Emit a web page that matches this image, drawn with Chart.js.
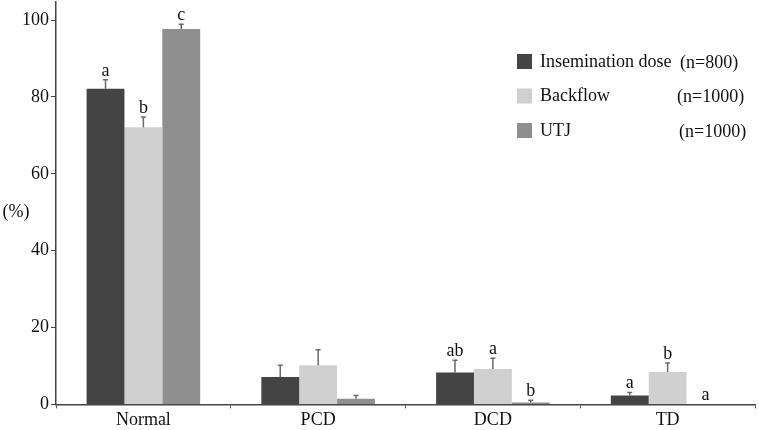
<!DOCTYPE html>
<html>
<head>
<meta charset="utf-8">
<script src="https://cdn.jsdelivr.net/npm/chart.js@4.4.1/dist/chart.umd.min.js"></script>
<style>
  html, body { margin: 0; padding: 0; background: #fff; }
  #wrap { width: 759px; height: 430px; }
</style>
</head>
<body>
<div id="wrap"><canvas id="chart"></canvas></div>
<script>
// Chart data.
const categories = ['Normal', 'PCD', 'DCD', 'TD'];
const seriesNames = ['Insemination dose', 'Backflow', 'UTJ'];
const sampleSizes = ['(n=800)', '(n=1000)', '(n=1000)'];
const doseValues = [82.1, 7.1, 8.3, 2.3];
const backflowValues = [72.1, 10.2, 9.2, 8.4];
const utjValues = [97.7, 1.5, 0.5, 0];
const doseErrors = [2.4, 3.1, 3.2, 0.8];
const backflowErrors = [2.7, 4.0, 2.8, 2.4];
const utjErrors = [1.2, 0.8, 0.6, 0];
const doseLetters = ['a', '', 'ab', 'a'];
const backflowLetters = ['b', '', 'a', 'b'];
const utjLetters = ['c', '', 'b', 'a'];
const yTicks = [0, 20, 40, 60, 80, 100];

const colors = ['#444444', '#d0d0d0', '#8f8f8f'];
const serif = '"Liberation Serif", "DejaVu Serif", serif';

// Draws the upward error bars and the significance letters above each bar.
const errorBarPlugin = {
    id: 'errorBars',
    afterDatasetsDraw: function (chart) {
        const ctx = chart.ctx;
        const yScale = chart.scales.y;
        ctx.save();
        chart.data.datasets.forEach(function (ds, di) {
            const meta = chart.getDatasetMeta(di);
            meta.data.forEach(function (bar, i) {
                const top = ds.data[i] + ds.errors[i];
                const yTop = yScale.getPixelForValue(top);
                if (ds.errors[i] > 0) {
                    ctx.strokeStyle = '#6a6a6a';
                    ctx.lineWidth = 1.5;
                    ctx.beginPath();
                    ctx.moveTo(bar.x, bar.y);
                    ctx.lineTo(bar.x, yTop);
                    ctx.moveTo(bar.x - 2.5, yTop);
                    ctx.lineTo(bar.x + 2.5, yTop);
                    ctx.stroke();
                }
                const letter = ds.letters[i];
                if (letter) {
                    ctx.fillStyle = '#111';
                    ctx.font = '18px ' + serif;
                    ctx.textAlign = 'center';
                    ctx.textBaseline = 'alphabetic';
                    ctx.fillText(letter, bar.x, yTop - 4);
                }
            });
        });
        ctx.restore();
    }
};

// Legend with sample sizes and the horizontal "(%)" axis label.
const legendPlugin = {
    id: 'customLegend',
    afterDraw: function (chart) {
        const ctx = chart.ctx;
        ctx.save();
        ctx.font = '18px ' + serif;
        ctx.textBaseline = 'middle';
        const nX = [680, 677, 679];
        chart.data.datasets.forEach(function (ds, i) {
            const cy = 62 + i * 34.5;
            ctx.fillStyle = ds.backgroundColor;
            ctx.fillRect(517, cy - 8, 15, 15);
            ctx.fillStyle = '#111';
            ctx.textAlign = 'left';
            ctx.fillText(ds.label, 540, cy);
            ctx.fillText(sampleSizes[i], nX[i], cy + 1);
        });
        ctx.textAlign = 'center';
        ctx.fillText('(%)', 16, chart.scales.y.getPixelForValue(50));
        ctx.restore();
    }
};

const valueSets = [doseValues, backflowValues, utjValues];
const errorSets = [doseErrors, backflowErrors, utjErrors];
const letterSets = [doseLetters, backflowLetters, utjLetters];

const datasets = seriesNames.map(function (name, i) {
    return {
        label: name,
        data: valueSets[i],
        errors: errorSets[i],
        letters: letterSets[i],
        backgroundColor: colors[i],
        borderWidth: 0,
        categoryPercentage: 0.65,
        barPercentage: 1.0
    };
});

new Chart(document.getElementById('chart'), {
    type: 'bar',
    data: { labels: categories, datasets: datasets },
    options: {
        responsive: true,
        maintainAspectRatio: false,
        animation: false,
        layout: { padding: { top: 2, right: 4, left: 0, bottom: -2 } },
        plugins: {
            legend: { display: false },
            tooltip: { enabled: false }
        },
        scales: {
            x: {
                grid: {
                    display: true,
                    drawOnChartArea: false,
                    offset: true,
                    tickLength: 4,
                    color: '#555'
                },
                border: { color: '#444', width: 1.5 },
                ticks: {
                    color: '#111',
                    font: { family: serif, size: 18 },
                    padding: 1
                }
            },
            y: {
                min: 0,
                max: 104.7,
                afterFit: function (scale) {
                    scale.width = 56;
                    scale.paddingTop = 0;
                },
                afterBuildTicks: function (scale) {
                    scale.ticks = yTicks.map(function (v) { return { value: v }; });
                },
                grid: {
                    display: true,
                    drawOnChartArea: false,
                    tickLength: 5,
                    color: '#444'
                },
                border: { color: '#444', width: 1.5 },
                ticks: {
                    color: '#111',
                    font: { family: serif, size: 18 },
                    padding: 2
                }
            }
        }
    },
    plugins: [errorBarPlugin, legendPlugin]
});
</script>
</body>
</html>
